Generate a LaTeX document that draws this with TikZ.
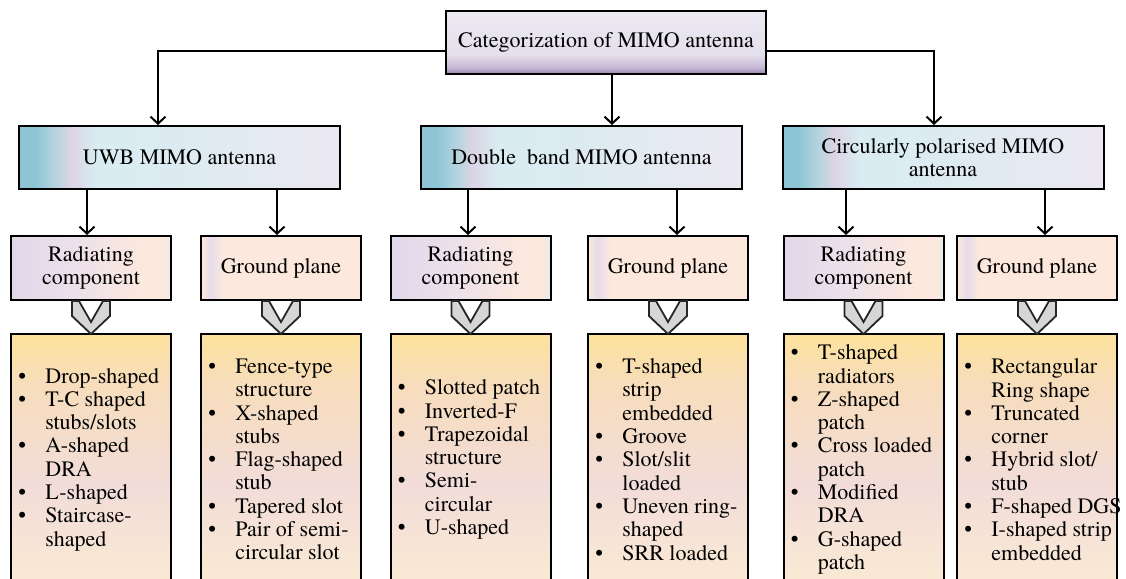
\documentclass[tikz,border=0pt]{standalone}
\usepackage{fontspec}
\setmainfont{TeX Gyre Termes}
\usetikzlibrary{arrows.meta,calc}
\definecolor{tpd}{HTML}{9C84AE}
\definecolor{tpm}{HTML}{C4B6D2}
\definecolor{tpl}{HTML}{E4DFEC}
\definecolor{tpt}{HTML}{ECE9F2}
\definecolor{lta}{HTML}{8DC5D5}
\definecolor{ltb}{HTML}{B4D4DF}
\definecolor{ltp}{HTML}{DCD4E4}
\definecolor{ltc}{HTML}{D8ECF2}
\definecolor{ltd}{HTML}{DFEBF1}
\definecolor{lte}{HTML}{ECE8F2}
\definecolor{rla}{HTML}{E0D8EA}
\definecolor{rlb}{HTML}{ECE0EA}
\definecolor{rlc}{HTML}{FBE8DF}
\definecolor{rld}{HTML}{E4EEF0}
\definecolor{gpa}{HTML}{FAEBD6}
\definecolor{gpb}{HTML}{E6DCEA}
\definecolor{gpc}{HTML}{FCE8DC}
\definecolor{lsa}{HTML}{FDE29C}
\definecolor{lsb}{HTML}{F7DDBC}
\definecolor{lsc}{HTML}{F2DCD8}
\definecolor{lsd}{HTML}{FAEAD4}
\definecolor{chv}{HTML}{D6D6D6}
\pgfdeclareverticalshading{topsh}{100bp}{color(0bp)=(tpd); color(25bp)=(tpd); color(30bp)=(tpm); color(40bp)=(tpl); color(75bp)=(tpt); color(100bp)=(tpt)}
\pgfdeclarehorizontalshading{lvtwo}{100bp}{color(0bp)=(lta); color(25bp)=(lta); color(27.5bp)=(lta); color(30.5bp)=(ltb); color(33bp)=(ltp); color(37bp)=(ltc); color(55bp)=(ltd); color(75bp)=(lte); color(100bp)=(lte)}
\pgfdeclarehorizontalshading{radsh}{100bp}{color(0bp)=(rla); color(25bp)=(rla); color(45bp)=(rlb); color(65bp)=(rlc); color(73bp)=(rlc); color(75bp)=(rld); color(100bp)=(rld)}
\pgfdeclarehorizontalshading{gndsh}{100bp}{color(0bp)=(gpa); color(25bp)=(gpa); color(28bp)=(gpb); color(32bp)=(gpc); color(75bp)=(gpc); color(100bp)=(gpc)}
\pgfdeclareverticalshading{lstsh}{100bp}{color(0bp)=(lsd); color(25bp)=(lsd); color(45bp)=(lsc); color(65bp)=(lsb); color(75bp)=(lsa); color(100bp)=(lsa)}
\newcommand{\lbul}{\makebox[17.5pt][l]{\hspace*{4pt}\textbullet}}
\newcommand{\lind}{\makebox[17.5pt][l]{}}
\tikzset{
  every node/.style={font=\fontsize{11}{11.65}\selectfont},
  bx/.style={draw=black, line width=1pt, inner sep=0pt, align=center},
  topbox/.style={bx, shading=topsh, minimum width=160pt, minimum height=31.5pt},
  lvbox/.style={bx, shading=lvtwo, minimum width=160.5pt, minimum height=31.5pt},
  radbox/.style={bx, shading=radsh, minimum width=80pt, minimum height=32pt},
  gndbox/.style={bx, shading=gndsh, minimum width=80pt, minimum height=32pt},
  lstbox/.style={bx, shading=lstsh, minimum width=80pt, minimum height=125.5pt},
  lsttext/.style={anchor=west, inner sep=0pt, align=left},
  arr/.style={line width=1pt, -{Straight Barb[length=3.5pt,width=7.5pt,line width=1pt]}},
  chev/.style={draw=black!85, line width=0.9pt, fill=chv, line join=miter},
}
\begin{document}
\begin{tikzpicture}[x=0.5pt,y=-0.5pt]
\useasboundingbox (0,0) rectangle (1126,579);
\clip (0,0) rectangle (1126,579);
% top
\node[topbox] (top) at (606,42.5) {Categorization of MIMO antenna};
% level 2
\node[lvbox] (uwb) at (179.5,157.5) {UWB MIMO antenna};
\node[lvbox] (db) at (581.5,157.5) {Double\ \ band MIMO antenna};
\node[lvbox] (cp) at (943,157.5) {Circularly polarised MIMO\\antenna};
% level 3
\node[radbox] (r1) at (91,268) {Radiating\\component};
\node[gndbox] (g1) at (281,268) {Ground plane};
\node[radbox] (r2) at (470.5,268) {Radiating\\component};
\node[gndbox] (g2) at (668,268) {Ground plane};
\node[radbox] (r3) at (863.5,268) {Radiating\\component};
\node[gndbox] (g3) at (1037,268) {Ground plane};
% level 4 boxes
\node[lstbox] (l1) at (91,459.5) {};
\node[lstbox] (l2) at (281,459.5) {};
\node[lstbox] (l3) at (470.5,459.5) {};
\node[lstbox] (l4) at (668,459.5) {};
\node[lstbox] (l5) at (863.5,459.5) {};
\node[lstbox] (l6) at (1037,459.5) {};
% lists
\node[lsttext] (t1) at (l1.west) {\lbul Drop-shaped\\\lbul T-C shaped\\\lind stubs/slots\\\lbul A-shaped\\\lind DRA\\\lbul L-shaped\\\lbul Staircase-\\\lind shaped};
\node[lsttext] (t2) at (l2.west) {\lbul Fence-type\\\lind structure\\\lbul X-shaped\\\lind stubs\\\lbul Flag-shaped\\\lind stub\\\lbul Tapered slot\\\lbul Pair of semi-\\\lind circular slot};
\node[lsttext] (t3) at (l3.west) {\lbul Slotted patch\\\lbul Inverted-F\\\lbul Trapezoidal\\\lind structure\\\lbul Semi-\\\lind circular\\\lbul U-shaped};
\node[lsttext] (t4) at (l4.west) {\lbul T-shaped\\\lind strip\\\lind embedded\\\lbul Groove\\\lbul Slot/slit\\\lind loaded\\\lbul Uneven ring-\\\lind shaped\\\lbul SRR loaded};
\node[lsttext] (t5) at (l5.west) {\lbul T-shaped\\\lind radiators\\\lbul Z-shaped\\\lind patch\\\lbul Cross loaded\\\lind patch\\\lbul Modified\\\lind DRA\\\lbul G-shaped\\\lind patch};
\node[lsttext] (t6) at (l6.west) {\lbul Rectangular\\\lind Ring shape\\\lbul Truncated\\\lind corner\\\lbul Hybrid slot/\\\lind stub\\\lbul F-shaped DGS\\\lbul I-shaped strip\\\lind embedded};
% top connectors
\coordinate (ka) at (158,51);
\coordinate (kb) at (934,51);
\coordinate (km) at (612,0);
\draw[arr] (top.west |- ka) -- (ka) -- (uwb.north -| ka);
\draw[arr] (top.east |- kb) -- (kb) -- (cp.north -| kb);
\draw[arr] (top.south -| km) -- (db.north -| km);
% level 2 -> 3
\coordinate (a1) at (87,0);
\coordinate (a2) at (277,0);
\coordinate (a3) at (468,0);
\coordinate (a4) at (677,0);
\coordinate (a5) at (846,0);
\coordinate (a6) at (1045,0);
\draw[arr] (uwb.south -| a1) -- (r1.north -| a1);
\draw[arr] (uwb.south -| a2) -- (g1.north -| a2);
\draw[arr] (db.south -| a3) -- (r2.north -| a3);
\draw[arr] (db.south -| a4) -- (g2.north -| a4);
\draw[arr] (cp.south -| a5) -- (r3.north -| a5);
\draw[arr] (cp.south -| a6) -- (g3.north -| a6);
% chevrons
\foreach \n in {r1,g1,r2,g2,r3,g3}{
  \draw[chev] (\n.south) ++(-19,0) -- ++(0,15) -- ++(19,18) -- ++(19,-18) -- ++(0,-15) -- ++(-7,0) -- ++(-12,21) -- ++(-12,-21) -- cycle;
}
\end{tikzpicture}
\end{document}
